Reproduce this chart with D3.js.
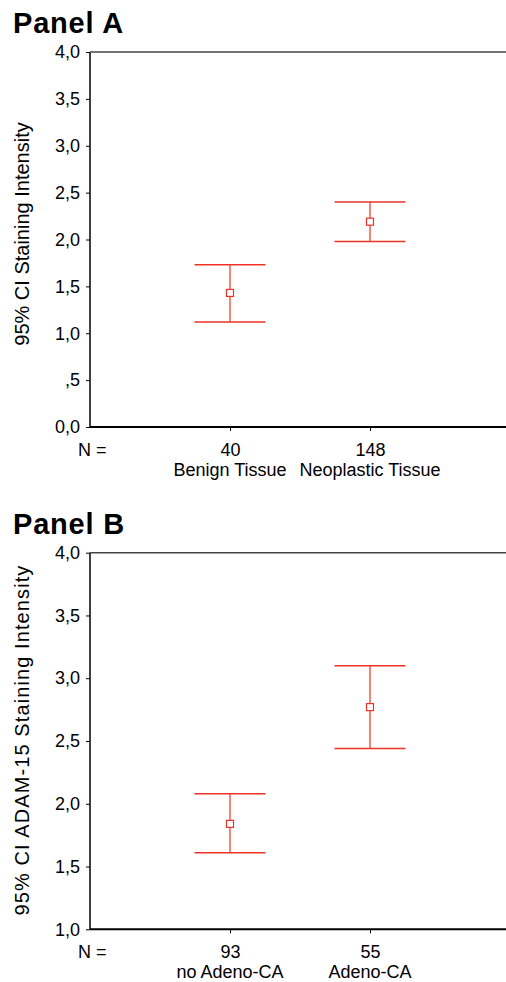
<!DOCTYPE html>
<html>
<head>
<meta charset="utf-8">
<script src="https://cdn.jsdelivr.net/npm/d3@7"></script>
<style>
  body { margin: 0; background: #fff; }
  svg { display: block; font-family: "Liberation Sans", Arial, sans-serif; }
</style>
</head>
<body>
<div id="chart"></div>
<script>
// panel A: staining intensity by tissue type
var categoriesA = ["Benign Tissue", "Neoplastic Tissue"];
var countsA = [40, 148];
var meansA = [1.43, 2.19];
var lowerA = [1.12, 1.98];
var upperA = [1.73, 2.40];
var ticksA = [0, 0.5, 1, 1.5, 2, 2.5, 3, 3.5, 4];
var tickLabelsA = ["0,0", ",5", "1,0", "1,5", "2,0", "2,5", "3,0", "3,5", "4,0"];

// panel B: ADAM-15 staining by adenocarcinoma status
var categoriesB = ["no Adeno-CA", "Adeno-CA"];
var countsB = [93, 55];
var meansB = [1.84, 2.77];
var lowerB = [1.61, 2.44];
var upperB = [2.08, 3.10];
var ticksB = [1, 1.5, 2, 2.5, 3, 3.5, 4];
var tickLabelsB = ["1,0", "1,5", "2,0", "2,5", "3,0", "3,5", "4,0"];

var W = 506, H = 982;
var red = "#ee3226";

var svg = d3.select("#chart").append("svg")
    .attr("width", W)
    .attr("height", H);

function drawPanel(opts) {
  var g = svg.append("g");
  var left = 90, right = 506;

  g.append("text")
    .attr("x", 13)
    .attr("y", opts.titleY)
    .style("font-size", "29px")
    .style("font-weight", "bold")
    .style("letter-spacing", "0.8px")
    .text(opts.title);

  var y = d3.scaleLinear()
      .domain(opts.domain)
      .range([opts.bottom, opts.top]);
  var x = d3.scaleLinear()
      .domain([0, 3])
      .range([left, 510]);

  var yAxis = d3.axisLeft(y)
      .tickValues(opts.ticks)
      .tickFormat(function (d, i) { return opts.tickLabels[i]; })
      .tickSize(4)
      .tickPadding(6);

  var ya = g.append("g")
      .attr("transform", "translate(" + left + ",0)")
      .call(yAxis);
  ya.select(".domain").remove();
  ya.selectAll("text").style("font-size", "18px").attr("fill", "#000");
  ya.selectAll("line").attr("stroke", "#000");

  // frame: left, top, bottom
  g.append("line")
    .attr("x1", left).attr("x2", left)
    .attr("y1", opts.top).attr("y2", opts.bottom)
    .attr("stroke", "#000").attr("stroke-width", 1.5);
  g.append("line")
    .attr("x1", left).attr("x2", right)
    .attr("y1", opts.top).attr("y2", opts.top)
    .attr("stroke", "#444").attr("stroke-width", 1.5);
  g.append("line")
    .attr("x1", left).attr("x2", right)
    .attr("y1", opts.bottom).attr("y2", opts.bottom)
    .attr("stroke", "#000").attr("stroke-width", 2);

  var xAxis = d3.axisBottom(x)
      .tickValues([1, 2])
      .tickFormat(function (d) { return opts.counts[d - 1]; })
      .tickSize(4)
      .tickPadding(12);
  var xa = g.append("g")
      .attr("transform", "translate(0," + opts.bottom + ")")
      .call(xAxis);
  xa.select(".domain").remove();
  xa.selectAll("text").style("font-size", "18px").attr("fill", "#000");
  xa.selectAll("line").attr("stroke", "#000");

  g.append("text")
    .attr("x", 78)
    .attr("y", opts.bottom + 29)
    .style("font-size", "18px")
    .text("N =");

  g.selectAll(".cat")
    .data(opts.categories)
    .enter().append("text")
    .attr("x", function (d, i) { return x(i + 1); })
    .attr("y", opts.bottom + 49)
    .attr("text-anchor", "middle")
    .style("font-size", "18px")
    .text(function (d) { return d; });

  // y axis title
  g.append("text")
    .attr("transform", "translate(29," + opts.labelMid + ") rotate(-90)")
    .attr("text-anchor", "middle")
    .style("font-size", "20px")
    .style("letter-spacing", opts.labelSpacing)
    .text(opts.yLabel);

  // error bars
  var capHalf = 35.5, box = 7;
  var bars = g.selectAll(".bar")
      .data(opts.means.map(function (m, i) {
        return { x: i + 1, mean: m, lo: opts.lower[i], hi: opts.upper[i] };
      }))
      .enter().append("g");

  bars.append("line")
    .attr("x1", function (d) { return x(d.x); })
    .attr("x2", function (d) { return x(d.x); })
    .attr("y1", function (d) { return y(d.hi); })
    .attr("y2", function (d) { return y(d.lo); })
    .attr("stroke", red).attr("stroke-width", 1.2);
  bars.append("line")
    .attr("x1", function (d) { return x(d.x) - capHalf; })
    .attr("x2", function (d) { return x(d.x) + capHalf; })
    .attr("y1", function (d) { return y(d.hi); })
    .attr("y2", function (d) { return y(d.hi); })
    .attr("stroke", red).attr("stroke-width", 1.5);
  bars.append("line")
    .attr("x1", function (d) { return x(d.x) - capHalf; })
    .attr("x2", function (d) { return x(d.x) + capHalf; })
    .attr("y1", function (d) { return y(d.lo); })
    .attr("y2", function (d) { return y(d.lo); })
    .attr("stroke", red).attr("stroke-width", 1.5);
  bars.append("rect")
    .attr("x", function (d) { return x(d.x) - box / 2; })
    .attr("y", function (d) { return y(d.mean) - box / 2; })
    .attr("width", box)
    .attr("height", box)
    .attr("fill", "#fff")
    .attr("stroke", red).attr("stroke-width", 1.2);
}

drawPanel({
  top: 52, bottom: 427, titleY: 33, labelMid: 234, labelSpacing: "0px",
  title: "Panel A",
  domain: [0, 4],
  ticks: ticksA, tickLabels: tickLabelsA,
  counts: countsA, categories: categoriesA,
  means: meansA, lower: lowerA, upper: upperA,
  yLabel: "95% CI Staining Intensity"
});

drawPanel({
  top: 552.7, bottom: 929.3, titleY: 534, labelMid: 740, labelSpacing: "1.1px",
  title: "Panel B",
  domain: [1, 4],
  ticks: ticksB, tickLabels: tickLabelsB,
  counts: countsB, categories: categoriesB,
  means: meansB, lower: lowerB, upper: upperB,
  yLabel: "95% CI ADAM-15 Staining Intensity"
});
</script>
</body>
</html>
